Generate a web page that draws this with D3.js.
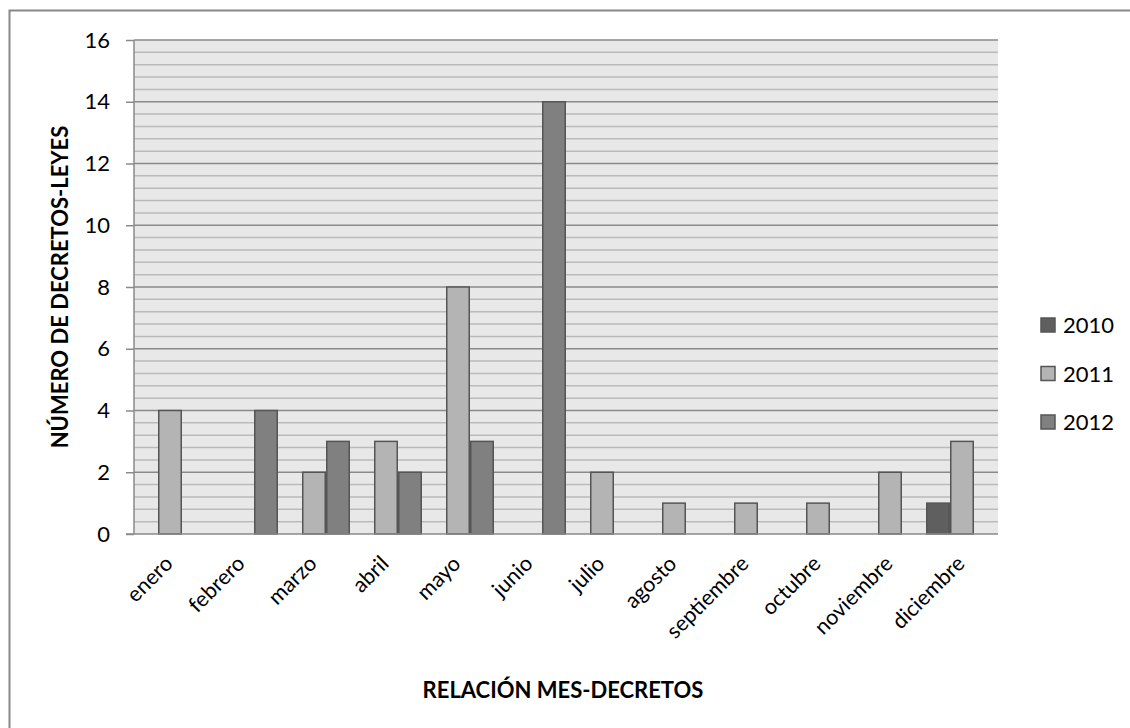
<!DOCTYPE html>
<html>
<head>
<meta charset="utf-8">
<script src="https://cdn.jsdelivr.net/npm/d3@7"></script>
<style>
  body { margin: 0; background: #fff; }
  svg { font-family: Lato, "Open Sans", sans-serif; }
</style>
</head>
<body>
<div id="chart"></div>
<script>
let months = ["enero", "febrero", "marzo", "abril", "mayo", "junio", "julio", "agosto", "septiembre", "octubre", "noviembre", "diciembre"];
let years = ["2010", "2011", "2012"];
let values2010 = [0, 0, 0, 0, 0, 0, 0, 0, 0, 0, 0, 1];
let values2011 = [4, 0, 2, 3, 8, 0, 2, 1, 1, 1, 2, 3];
let values2012 = [0, 4, 3, 2, 3, 14, 0, 0, 0, 0, 0, 0];
let yTicks = [0, 2, 4, 6, 8, 10, 12, 14, 16];
let colors = {"2010": "#5f5f5f", "2011": "#b4b4b4", "2012": "#808080"};

let series = {"2010": values2010, "2011": values2011, "2012": values2012};

let W = 1130, H = 728;
let margin = {top: 40, left: 134, right: 132, bottom: 194};
let width = W - margin.left - margin.right,
    height = H - margin.top - margin.bottom;

let svg = d3.select("#chart").append("svg")
    .attr("width", W).attr("height", H);

// outer chart border (only left/top visible in the picture)
svg.append("rect")
    .attr("x", 9.5).attr("y", 10.5)
    .attr("width", W + 20).attr("height", H + 20)
    .attr("fill", "none").attr("stroke", "#888").attr("stroke-width", 2);

let g = svg.append("g").attr("transform", "translate(" + margin.left + "," + margin.top + ")");

let x = d3.scaleBand().domain(months).range([0, width]).padding(0);
let xs = d3.scaleBand().domain(years).range([0, x.bandwidth()]).padding(0);
let y = d3.scaleLinear().domain([0, 16]).range([height, 0]);

g.append("rect").attr("width", width).attr("height", height).attr("fill", "#e8e8e8");

// minor grid every 0.4
let minor = d3.range(0, 16.01, 0.4).filter(v => Math.abs(v / 2 - Math.round(v / 2)) > 0.01);
g.selectAll(".minor").data(minor).enter().append("line")
    .attr("x1", 0).attr("x2", width)
    .attr("y1", d => y(d)).attr("y2", d => y(d))
    .attr("stroke", "#bababa").attr("stroke-width", 1.5);

g.selectAll(".major").data(yTicks.slice(1)).enter().append("line")
    .attr("x1", 0).attr("x2", width)
    .attr("y1", d => y(d)).attr("y2", d => y(d))
    .attr("stroke", "#8a8a8a").attr("stroke-width", 1.5);

// bars
let groups = g.selectAll(".grp").data(months).enter().append("g")
    .attr("transform", d => "translate(" + x(d) + ",0)");

years.forEach(yr => {
    groups.filter((d, i) => series[yr][i] > 0)
        .append("rect")
        .attr("x", xs(yr) + 0.75)
        .attr("width", xs.bandwidth() - 1.5)
        .attr("y", d => y(series[yr][months.indexOf(d)]))
        .attr("height", d => height - y(series[yr][months.indexOf(d)]))
        .attr("fill", colors[yr])
        .attr("stroke", "#555").attr("stroke-width", 1.5);
});

// y axis
let yAxis = g.append("g").call(d3.axisLeft(y).tickValues(yTicks).tickSize(8).tickPadding(16));
yAxis.select(".domain").attr("stroke", "#8a8a8a").attr("stroke-width", 1.5).attr("d", "M0," + height + "V0");
yAxis.selectAll(".tick line").attr("stroke", "#8a8a8a").attr("stroke-width", 1.5);
yAxis.selectAll(".tick text").attr("font-size", 22).attr("fill", "#000").attr("font-family", "Lato, sans-serif");

// x axis
let xAxis = g.append("g").attr("transform", "translate(0," + height + ")")
    .call(d3.axisBottom(x).tickSize(0).tickFormat(""));
xAxis.select(".domain").attr("stroke", "#8a8a8a").attr("stroke-width", 1.5).attr("d", "M-8,0H" + width);

g.selectAll(".xlab").data(months).enter().append("text")
    .attr("transform", d => "translate(" + (x(d) + x.bandwidth() / 2 + 4) + "," + (height + 31) + ") rotate(-45)")
    .attr("text-anchor", "end")
    .attr("font-size", 21.5)
    .attr("fill", "#000")
    .text(d => d);

// axis titles
svg.append("text")
    .attr("x", 563).attr("y", 698)
    .attr("text-anchor", "middle")
    .attr("font-size", 22).attr("font-weight", "bold")
    .text("RELACIÓN MES-DECRETOS");

svg.append("text")
    .attr("transform", "translate(68," + (margin.top + height / 2) + ") rotate(-90)")
    .attr("text-anchor", "middle")
    .attr("font-size", 22).attr("font-weight", "bold")
    .text("NÚMERO DE DECRETOS-LEYES");

// legend
let legend = svg.append("g").attr("transform", "translate(1041,318)");
years.forEach((yr, i) => {
    let row = legend.append("g").attr("transform", "translate(0," + (i * 48.5) + ")");
    row.append("rect").attr("width", 14).attr("height", 14)
        .attr("fill", colors[yr]).attr("stroke", "#555").attr("stroke-width", 1.5);
    row.append("text").attr("x", 22).attr("y", 15)
        .attr("font-size", 22).attr("fill", "#000").text(yr);
});
</script>
</body>
</html>
